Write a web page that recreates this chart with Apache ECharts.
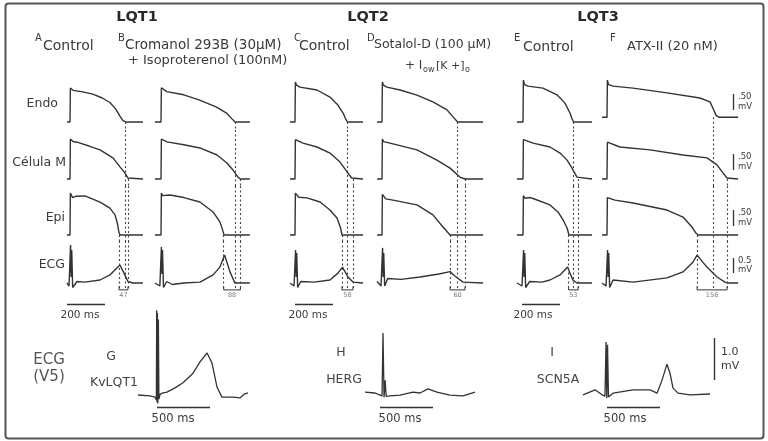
<!DOCTYPE html>
<html><head><meta charset="utf-8">
<script src="https://cdn.jsdelivr.net/npm/echarts@6/dist/echarts.min.js"></script>
<style>html,body{margin:0;padding:0;background:#fff}#c{width:768px;height:441px}</style>
</head><body><div id="c"></div>
<script>
// ---------------- DATA (time in ms from upstroke, potential in mV) ----------------
const syndromeTitles = ['LQT1', 'LQT2', 'LQT3'];
const panelLetters = ['A', 'B', 'C', 'D', 'E', 'F'];
const rowLabels = ['Endo', 'Célula M', 'Epi', 'ECG'];
const tdrLabels = ['47', '88', '58', '60', '53', '156'];
const bottomLetters = ['G', 'H', 'I'];
const bottomGenes = ['KvLQT1', 'HERG', 'SCN5A'];

const endoA = [[-16,-85],[0,-85],[2,21],[8,22],[16,14],[60,10],[120,2],[170,-10],[210,-24],[240,-44],[262,-66],[278,-80],[292,-85],[384,-85]];
const cellMA = [[-16,-85],[0,-85],[2,40],[8,36],[16,32],[37,30],[100,18],[158,6],[226,-19],[263,-47],[289,-66],[305,-82],[312,-85],[384,-85]];
const epiA = [[-16,-85],[0,-85],[2,46],[8,40],[14,32],[30,36],[79,37],[158,18],[210,-1],[237,-22],[250,-50],[258,-78],[264,-85],[384,-85]];
const ecgA = [[-16,0],[-5,-0.1],[3,1.27],[6,0.2],[9,1.1],[14,-0.15],[37,0.05],[79,0.03],[158,0.1],[210,0.27],[247,0.5],[263,0.6],[284,0.33],[305,0.05],[330,0],[384,0]];

const endoB = [[-32,-85],[0,-85],[2,22],[10,18],[30,10],[120,0],[200,-16],[290,-38],[345,-57],[375,-76],[390,-85],[468,-85]];
const cellMB = [[-32,-85],[0,-85],[2,40],[8,34],[32,31],[120,22],[205,12],[295,-10],[347,-35],[379,-57],[405,-79],[418,-85],[468,-85]];
const epiB = [[-32,-85],[0,-85],[2,46],[8,38],[14,33],[47,40],[120,32],[205,18],[274,-13],[310,-44],[324,-69],[332,-85],[468,-85]];
const ecgB = [[-32,0],[-6,-0.1],[2,1.2],[5,0.3],[8,1.1],[13,-0.15],[30,0.05],[60,-0.05],[120,0],[205,0.03],[274,0.27],[310,0.53],[335,0.93],[363,0.37],[389,0],[468,0]];

const endoC = [[-26,-85],[0,-85],[2,40],[8,30],[26,24],[116,15],[184,-7],[226,-32],[253,-57],[266,-75],[276,-85],[358,-85]];
const cellMC = [[-26,-85],[0,-85],[2,38],[8,32],[42,27],[116,15],[184,-4],[237,-32],[274,-63],[298,-82],[305,-85],[358,-85]];
const epiC = [[-26,-85],[0,-85],[2,46],[8,40],[20,33],[63,31],[132,18],[184,-7],[221,-32],[240,-63],[247,-85],[358,-85]];
const ecgC = [[-26,0],[-5,-0.1],[3,1.1],[6,0.2],[9,1.0],[14,-0.15],[30,0.05],[100,0.03],[184,0.1],[226,0.33],[250,0.53],[279,0.2],[305,0.03],[358,0]];

const endoD = [[-26,-85],[0,-85],[2,40],[8,30],[26,24],[95,15],[184,-1],[268,-22],[342,-47],[374,-69],[398,-85],[532,-85]];
const cellMD = [[-26,-85],[0,-85],[2,40],[8,32],[42,27],[184,6],[289,-26],[358,-51],[410,-79],[437,-85],[532,-85]];
const epiD = [[-26,-85],[0,-85],[2,42],[8,36],[20,28],[58,24],[184,9],[268,-22],[321,-60],[358,-85],[532,-85]];
const ecgD = [[-26,0.05],[-5,-0.1],[3,1.17],[6,0.2],[9,1.0],[14,-0.1],[30,0.15],[100,0.12],[200,0.2],[300,0.3],[358,0.38],[380,0.25],[426,0.03],[532,0]];

const endoE = [[-32,-85],[0,-85],[2,46],[8,32],[26,27],[105,21],[179,0],[221,-26],[247,-57],[258,-75],[266,-85],[363,-85]];
const cellME = [[-32,-85],[0,-85],[2,38],[8,32],[53,27],[142,15],[195,-4],[232,-26],[258,-51],[284,-79],[292,-85],[363,-85]];
const epiE = [[-32,-85],[0,-85],[2,38],[10,30],[37,32],[53,29],[142,9],[184,-13],[211,-38],[232,-63],[242,-85],[363,-85]];
const ecgE = [[-32,0],[-5,-0.1],[3,1.1],[6,0.2],[9,1.0],[14,-0.15],[35,0.05],[100,0.03],[142,0.1],[195,0.27],[235,0.53],[247,0.33],[263,0.1],[284,0],[363,0]];

const endoF = [[-26,-70],[0,-70],[2,46],[8,32],[32,27],[137,21],[316,6],[489,-10],[542,-22],[560,-45],[575,-65],[590,-70],[690,-70]];
const cellMF = [[-26,-85],[0,-85],[2,30],[10,27],[68,15],[226,6],[400,-10],[526,-19],[579,-41],[610,-66],[632,-82],[640,-85],[690,-85]];
const epiF = [[-26,-85],[0,-85],[2,32],[10,28],[42,24],[137,15],[316,-7],[400,-29],[447,-60],[468,-79],[480,-85],[690,-85]];
const ecgF = [[-26,0],[-5,-0.1],[3,1.1],[6,0.2],[9,1.0],[14,-0.15],[32,0.1],[137,0.03],[316,0.17],[400,0.37],[453,0.7],[474,0.93],[526,0.53],[579,0.2],[621,0.03],[637,0],[690,0]];

// repolarization end times (ms) used for the dotted lines and TDR brackets
const repolEndo = [290, 390, 274, 398, 263, 560];
const repolM = [305, 418, 305, 437, 290, 632];
const repolEpi = [258, 330, 247, 358, 240, 474];

// clinical ECG (V5), time in ms from QRS, mV
const ecgKvLQT1 = [[-179,0],[-66,-0.02],[-19,-0.05],[-6,-0.12],[-3,2.02],[0,-0.17],[4,1.95],[8,-0.2],[13,1.8],[18,-0.1],[30,0.02],[57,0.05],[94,0.07],[170,0.17],[245,0.29],[340,0.52],[406,0.79],[472,1.0],[519,0.76],[566,0.19],[613,-0.05],[717,-0.05],[783,-0.07],[821,0.02],[858,0.05]];
const ecgHERG = [[-170,0.02],[-75,0],[-28,-0.05],[-9,-0.07],[0,1.43],[10,-0.1],[20,0.3],[30,-0.08],[66,-0.07],[160,-0.05],[283,0.02],[349,0],[425,0.1],[509,0.02],[632,-0.05],[755,-0.07],[868,0.02]];
const ecgSCN5A = [[-226,-0.02],[-113,0.1],[-47,-0.02],[-19,-0.05],[-9,1.24],[-2,-0.1],[5,1.17],[14,-0.07],[24,-0.05],[57,0.02],[245,0.1],[406,0.1],[472,0.02],[519,0.33],[566,0.71],[594,0.5],[623,0.14],[670,0.02],[783,-0.02],[972,0]];

// ---------------- LAYOUT ----------------
const traces = [
  [endoA, endoB, endoC, endoD, endoE, endoF],
  [cellMA, cellMB, cellMC, cellMD, cellME, cellMF],
  [epiA, epiB, epiC, epiD, epiE, epiF],
  [ecgA, ecgB, ecgC, ecgD, ecgE, ecgF]
];
const bottomTraces = [ecgKvLQT1, ecgHERG, ecgSCN5A];

const PX_MS = 0.19, PX_MV = 0.32, ECG_PX_MV = 30;
const colX0 = [70, 161, 295, 382, 523, 607];
const colTMin = [-16, -32, -26, -26, -32, -26];
const colTMax = [384, 468, 358, 532, 363, 690];
const rows = [
  {top: 76, bottom: 130, basePx: 122, baseVal: -85, scale: PX_MV},
  {top: 130, bottom: 186, basePx: 179, baseVal: -85, scale: PX_MV},
  {top: 186, bottom: 241, basePx: 235, baseVal: -85, scale: PX_MV},
  {top: 241, bottom: 300, basePx: 283, baseVal: 0, scale: ECG_PX_MV}
];
const BR_LOW = -0.23, BR_HIGH = -0.12;
const B_PX_MS = 0.106, B_PX_MV = 42;
const bottomX0 = [157, 383, 607];
const bottomTMin = [-190, -180, -230];
const bottomTMax = [870, 880, 980];
const bottomBase = [395, 393, 394];
const B_TOP = 300, B_BOTTOM = 412;

const INK = '#333';
const FONT = '"DejaVu Sans", sans-serif';

const grids = [], xAxes = [], yAxes = [], series = [];
function addGrid(left, width, top, bottom, xmin, xmax, ymin, ymax) {
  grids.push({left: left, top: top, width: width, height: bottom - top, containLabel: false});
  const i = grids.length - 1;
  xAxes.push({type: 'value', gridIndex: i, min: xmin, max: xmax, show: false, splitLine: {show: false}});
  yAxes.push({type: 'value', gridIndex: i, min: ymin, max: ymax, show: false, splitLine: {show: false}});
  return i;
}
const dotted = {type: [2, 2.5], color: '#444', width: 1.1};
for (let r = 0; r < 4; r++) {
  const row = rows[r];
  const ymax = row.baseVal + (row.basePx - row.top) / row.scale;
  const ymin = row.baseVal - (row.bottom - row.basePx) / row.scale;
  for (let c = 0; c < 6; c++) {
    const left = colX0[c] + colTMin[c] * PX_MS;
    const width = (colTMax[c] - colTMin[c]) * PX_MS;
    const gi = addGrid(left, width, row.top, row.bottom, colTMin[c], colTMax[c], ymin, ymax);
    const lines = [];
    const times = [repolEndo[c], repolM[c], repolEpi[c]];
    for (let s = 0; s < 3; s++) {
      if (r < s) continue;
      const t = times[s];
      const startV = (r === s) ? traces[r][c][traces[r][c].length - 1][1] : ymax;
      const endV = (r === 3) ? BR_LOW : ymin;
      lines.push([{coord: [t, startV]}, {coord: [t, endV]}]);
    }
    series.push({
      type: 'line', xAxisIndex: gi, yAxisIndex: gi, data: traces[r][c],
      showSymbol: false, symbol: 'none', clip: false, animation: false, silent: true,
      lineStyle: {color: INK, width: 1.4},
      markLine: {silent: true, symbol: ['none', 'none'], animation: false,
        label: {show: false}, lineStyle: dotted, data: lines}
    });
    if (r === 3) {
      const a = repolEpi[c], b = repolM[c];
      series.push({
        type: 'line', xAxisIndex: gi, yAxisIndex: gi,
        data: [[a, BR_HIGH], [a, BR_LOW], [b, BR_LOW], [b, BR_HIGH]],
        showSymbol: false, symbol: 'none', clip: false, animation: false, silent: true,
        lineStyle: {color: INK, width: 1}
      });
      series.push({
        type: 'scatter', xAxisIndex: gi, yAxisIndex: gi, symbolSize: 0,
        data: [[(a + b) / 2, BR_LOW]], clip: false, animation: false, silent: true,
        label: {show: true, position: 'bottom', distance: 2, formatter: tdrLabels[c],
          fontSize: 6.5, color: '#555', fontFamily: FONT}
      });
    }
  }
}
for (let k = 0; k < 3; k++) {
  const left = bottomX0[k] + bottomTMin[k] * B_PX_MS;
  const width = (bottomTMax[k] - bottomTMin[k]) * B_PX_MS;
  const ymax = (bottomBase[k] - B_TOP) / B_PX_MV;
  const ymin = -(B_BOTTOM - bottomBase[k]) / B_PX_MV;
  const gi = addGrid(left, width, B_TOP, B_BOTTOM, bottomTMin[k], bottomTMax[k], ymin, ymax);
  series.push({
    type: 'line', xAxisIndex: gi, yAxisIndex: gi, data: bottomTraces[k],
    showSymbol: false, symbol: 'none', clip: false, animation: false, silent: true,
    lineStyle: {color: INK, width: 1.3}
  });
}

// ---------------- ANNOTATIONS ----------------
const g = [];
function txt(text, x, y, size, opts) {
  opts = opts || {};
  g.push({type: 'text', silent: true, z: 10, style: {
    text: text, x: x, y: y, fill: opts.color || '#3a3a3a',
    font: (opts.bold ? 'bold ' : '') + size + 'px ' + FONT,
    textAlign: opts.align || 'left', textVerticalAlign: 'middle', verticalAlign: 'middle'
  }});
}
function seg(x1, y1, x2, y2, w) {
  g.push({type: 'line', silent: true, z: 10, shape: {x1: x1, y1: y1, x2: x2, y2: y2},
    style: {stroke: INK, lineWidth: w || 1.3}});
}
g.push({type: 'rect', silent: true, z: 1, shape: {x: 5.5, y: 3.5, width: 758, height: 435, r: 3},
  style: {fill: 'none', stroke: '#555', lineWidth: 2}});

txt(syndromeTitles[0], 137, 17, 14.5, {bold: true, align: 'center', color: '#2a2a2a'});
txt(syndromeTitles[1], 368, 17, 14.5, {bold: true, align: 'center', color: '#2a2a2a'});
txt(syndromeTitles[2], 598, 17, 14.5, {bold: true, align: 'center', color: '#2a2a2a'});

const supX = [35, 118, 294, 367, 514, 610];
for (let c = 0; c < 6; c++) txt(panelLetters[c], supX[c], 38, 10);
txt('Control', 43, 46, 14);
txt('Cromanol 293B (30µM)', 125, 45, 13.5);
txt('+ Isoproterenol (100nM)', 128, 61, 13);
txt('Control', 299, 46, 14);
txt('Sotalol-D (100 µM)', 374, 45, 12.5);
txt('+ I', 405, 66, 12);
txt('ow', 423, 70, 8);
txt('[K +]', 436, 66, 11);
txt('o', 465, 70, 8);
txt('Control', 523, 47, 14);
txt('ATX-II (20 nM)', 627, 47, 13);

txt(rowLabels[0], 58, 104, 12.5, {align: 'right'});
txt(rowLabels[1], 66, 163, 12.5, {align: 'right'});
txt(rowLabels[2], 65, 218, 12.5, {align: 'right'});
txt(rowLabels[3], 65, 265, 12.5, {align: 'right'});

const vb = [[94, 50, PX_MV, '.50'], [154, 50, PX_MV, '.50'], [210, 50, PX_MV, '.50'], [258, 0.5, ECG_PX_MV, '0.5']];
vb.forEach(function (b) {
  const len = b[1] * b[2];
  seg(733.5, b[0], 733.5, b[0] + len, 1.3);
  txt(b[3], 738, b[0] + 3, 8.5);
  txt('mV', 738, b[0] + len - 3, 8.5);
});

[[67, 80], [295, 308], [522, 533]].forEach(function (p) {
  seg(p[0], 304.5, p[0] + 200 * PX_MS, 304.5, 1.3);
  txt('200 ms', p[1], 315, 10.5, {align: 'center'});
});

txt('ECG', 49, 360, 15, {align: 'center', color: '#555'});
txt('(V5)', 49, 377, 15, {align: 'center', color: '#555'});
const letX = [111, 341, 552], geneX = [114, 344, 558];
for (let k = 0; k < 3; k++) {
  txt(bottomLetters[k], letX[k], k === 0 ? 357 : 353, 12.5, {align: 'center', color: '#444'});
  txt(bottomGenes[k], geneX[k], k === 0 ? 383 : 380, 12.5, {align: 'center', color: '#444'});
}
[[157, 173], [380, 400], [607, 625]].forEach(function (p) {
  seg(p[0], 407.5, p[0] + 500 * B_PX_MS, 407.5, 1.3);
  txt('500 ms', p[1], 419, 11.5, {align: 'center'});
});
seg(714.5, 338, 714.5, 338 + 1.0 * B_PX_MV, 1.4);
txt('1.0', 721, 352, 11);
txt('mV', 721, 366, 11);

const chart = echarts.init(document.getElementById('c'), null, {renderer: 'canvas'});
chart.setOption({
  backgroundColor: '#ffffff',
  animation: false,
  grid: grids, xAxis: xAxes, yAxis: yAxes, series: series,
  graphic: {elements: g}
});
</script>
</body></html>
